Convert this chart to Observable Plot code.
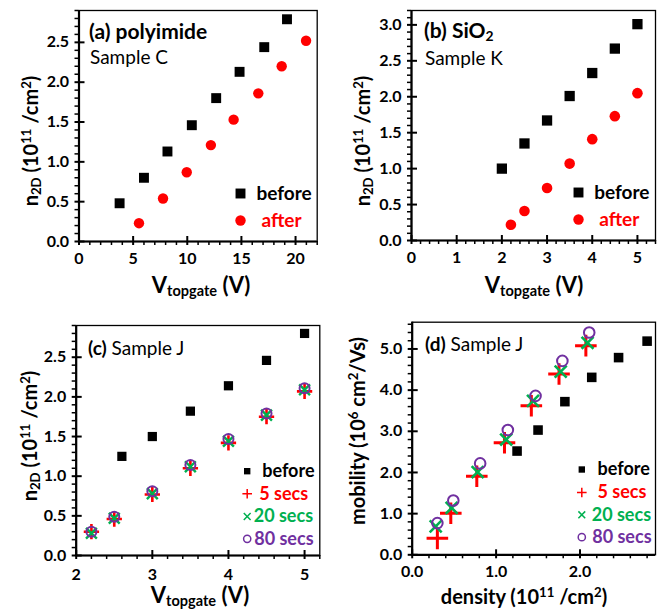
<!DOCTYPE html>
<html><head><meta charset="utf-8">
<script src="https://cdn.jsdelivr.net/npm/d3@7"></script>
<script src="https://cdn.jsdelivr.net/npm/@observablehq/plot@0.6"></script>
<style>
body{margin:0;background:#fff;}
#root{position:relative;width:664px;height:610px;font-family:Lato,"Open Sans",sans-serif;color:#000;overflow:hidden;}
.panel{position:absolute;width:332px;height:305px;}
.lab{position:absolute;white-space:nowrap;line-height:1;}
.lab sub,.lab sup{font-size:0.66em;line-height:0;}
.lab sub{vertical-align:-0.24em;}
.lab sup{vertical-align:0.55em;}
</style></head><body><div id="root"></div>
<script>
// ---------- data ----------
// (a) polyimide, Sample C
const aBeforeV = [3.75, 6.0, 8.17, 10.42, 12.67, 14.83, 17.11, 19.21];
const aBeforeN = [0.48, 0.80, 1.13, 1.46, 1.80, 2.13, 2.44, 2.79];
const aAfterV  = [5.54, 7.76, 9.95, 12.18, 14.28, 16.56, 18.72, 20.97];
const aAfterN  = [0.23, 0.54, 0.87, 1.21, 1.53, 1.86, 2.20, 2.52];
// (b) SiO2, Sample K
const bBeforeV = [2.0, 2.5, 3.0, 3.5, 4.0, 4.5, 5.0];
const bBeforeN = [1.00, 1.35, 1.67, 2.01, 2.33, 2.67, 3.01];
const bAfterV  = [2.2, 2.5, 3.0, 3.5, 4.0, 4.5, 5.0];
const bAfterN  = [0.22, 0.41, 0.73, 1.07, 1.41, 1.73, 2.05];
// (c) Sample J : density vs gate voltage
const cBeforeV = [2.6, 3.0, 3.5, 4.0, 4.5, 5.0];
const cBeforeN = [1.25, 1.50, 1.82, 2.14, 2.46, 2.80];
const cAfterV  = [2.2, 2.5, 3.0, 3.5, 4.0, 4.5, 5.0];
const c5sN     = [0.30, 0.46, 0.77, 1.10, 1.42, 1.75, 2.07];
const c20sN    = [0.28, 0.47, 0.78, 1.12, 1.44, 1.77, 2.09];
const c80sN    = [0.30, 0.49, 0.81, 1.14, 1.47, 1.79, 2.11];
// (d) Sample J : mobility vs density
const dBeforeMu = [2.52, 3.03, 3.72, 4.31, 4.79, 5.19];
const d5sMu     = [0.40, 1.01, 1.91, 2.72, 3.62, 4.39, 5.08];
const d20sMu    = [0.69, 1.14, 2.01, 2.80, 3.74, 4.45, 5.15];
const d80sMu    = [0.77, 1.32, 2.22, 3.03, 3.86, 4.71, 5.40];
// tick labels
const aXTicks = [0, 5, 10, 15, 20];
const aYTicks = [0, 0.5, 1.0, 1.5, 2.0, 2.5];
const bXTicks = [0, 1, 2, 3, 4, 5];
const bYTicks = [0, 0.5, 1.0, 1.5, 2.0, 2.5, 3.0];
const cXTicks = [2, 3, 4, 5];
const cYTicks = [0, 0.5, 1.0, 1.5, 2.0, 2.5];
const dXTicks = [0, 1, 2];
const dYTicks = [0, 1, 2, 3, 4, 5];

const RED = "#ff0000", GREEN = "#00b050", PURPLE = "#7030a0";
const root = document.getElementById("root");

function minorTicks(lo, hi, step, majors) {
  const out = [];
  for (let i = 0; lo + i * step <= hi + 1e-9; i++) {
    const v = +(lo + i * step).toFixed(6);
    if (!majors.some(m => Math.abs(m - v) < 1e-6)) out.push(v);
  }
  return out;
}

function panel({left, top, W = 332, H = 305, ml, mr, mt, mb, x, y, xMinorStep, yMinorStep, xFmt, yFmt, xPad = 11, marks}) {
  const fw = W - ml - mr, fh = H - mt - mb;
  const xMin = minorTicks(x.domain[0], x.domain[1], xMinorStep, x.ticks);
  const yMin = minorTicks(y.domain[0], y.domain[1], yMinorStep, y.ticks);
  const svg = Plot.plot({
    width: W, height: H,
    marginLeft: ml, marginRight: mr, marginTop: mt, marginBottom: mb,
    style: {fontFamily: "Lato, 'Open Sans', sans-serif", fontSize: "16px", fontWeight: "bold", color: "#000", background: "transparent", overflow: "visible"},
    x: {domain: x.domain, ticks: x.ticks, tickFormat: xFmt, tickSize: 0, tickPadding: xPad, label: null},
    y: {domain: y.domain, ticks: y.ticks, tickFormat: yFmt, tickSize: 0, tickPadding: 10, label: null},
    marks: [
      Plot.frame({stroke: "#000", strokeWidth: 1.3}),
      Plot.tickX(xMin, {x: d => d, insetTop: fh, insetBottom: -4, stroke: "#000", strokeWidth: 1.5}),
      Plot.tickX(x.ticks, {x: d => d, insetTop: fh - 5, insetBottom: -4, stroke: "#000", strokeWidth: 2}),
      Plot.tickY(yMin, {y: d => d, insetRight: fw, insetLeft: -4, stroke: "#000", strokeWidth: 1.5}),
      Plot.tickY(y.ticks, {y: d => d, insetRight: fw - 6, insetLeft: -4, stroke: "#000", strokeWidth: 2}),
      Plot.ruleY([y.domain[0]], {stroke: "#000", strokeWidth: 2.2}),
      Plot.ruleX([x.domain[0]], {stroke: "#000", strokeWidth: 2.2}),
      ...marks
    ]
  });
  const div = document.createElement("div");
  div.className = "panel";
  div.style.left = left + "px";
  div.style.top = top + "px";
  div.appendChild(svg);
  root.appendChild(div);
}

function legendItem(text, color, dx, dy, tdx, fontSize, symOpts) {
  return [
    Plot.dot([text], {x: null, y: null, frameAnchor: "top-left", dx, dy, ...symOpts}),
    Plot.text([text], {x: null, y: null, text: d => d, frameAnchor: "top-left", dx: tdx, dy, textAnchor: "start", lineAnchor: "middle", fill: color, fontSize, fontWeight: "bold"})
  ];
}

const f1 = d3.format(".1f");
const f0 = d3.format("d");

// ---------- (a) ----------
panel({
  left: 0, top: 0, ml: 78.5, mr: 15.3, mt: 10, mb: 64,
  x: {domain: [0, 22], ticks: aXTicks}, y: {domain: [0, 2.9], ticks: aYTicks},
  xMinorStep: 1, yMinorStep: 0.1, xFmt: f0, yFmt: f1,
  marks: [
    Plot.dot(aBeforeN, {x: aBeforeV, y: aBeforeN, symbol: "square", r: 5.6, fill: "#000"}),
    Plot.dot(aAfterN, {x: aAfterV, y: aAfterN, symbol: "circle", r: 5.2, fill: RED}),
    ...legendItem("before", "#000", 161.5, 183, 177.5, 19, {symbol: "square", r: 5.6, fill: "#000"}),
    ...legendItem("after", RED, 161.5, 210, 182.5, 19, {symbol: "circle", r: 5.2, fill: RED})
  ]
});

// ---------- (b) ----------
panel({
  left: 332, top: 0, ml: 79, mr: 9, mt: 10, mb: 65,
  x: {domain: [0, 5.4], ticks: bXTicks}, y: {domain: [0, 3.2], ticks: bYTicks},
  xMinorStep: 0.2, yMinorStep: 0.1, xFmt: f0, yFmt: f1,
  marks: [
    Plot.dot(bBeforeN, {x: bBeforeV, y: bBeforeN, symbol: "square", r: 5.8, fill: "#000"}),
    Plot.dot(bAfterN, {x: bAfterV, y: bAfterN, symbol: "circle", r: 5.3, fill: RED}),
    ...legendItem("before", "#000", 167, 182, 182.7, 19, {symbol: "square", r: 5.6, fill: "#000"}),
    ...legendItem("after", RED, 167, 209, 187.7, 19, {symbol: "circle", r: 5.2, fill: RED})
  ]
});

// ---------- (c) ----------
panel({
  left: 0, top: 305, ml: 75.7, mr: 12.7, mt: 20, mb: 55, xPad: 13,
  x: {domain: [2, 5.2], ticks: cXTicks}, y: {domain: [0, 2.9], ticks: cYTicks},
  xMinorStep: 0.2, yMinorStep: 0.1, xFmt: f0, yFmt: f1,
  marks: [
    Plot.dot(cBeforeN, {x: cBeforeV, y: cBeforeN, symbol: "square", r: 5.2, fill: "#000"}),
    Plot.dot(c5sN, {x: cAfterV, y: c5sN, symbol: "plus", r: 5, stroke: RED, strokeWidth: 2.6}),
    Plot.dot(c20sN, {x: cAfterV, y: c20sN, symbol: "times", r: 5, stroke: GREEN, strokeWidth: 2.4}),
    Plot.dot(c80sN, {x: cAfterV, y: c80sN, symbol: "circle", r: 5, stroke: PURPLE, strokeWidth: 2, fill: "none"}),
    ...legendItem("before", "#000", 171, 145.7, 186, 18, {symbol: "square", r: 3.6, fill: "#000"}),
    ...legendItem("5 secs", RED, 171, 168.3, 183, 18, {symbol: "plus", r: 3.2, stroke: RED, strokeWidth: 1.5}),
    ...legendItem("20 secs", GREEN, 171, 191, 177.5, 18, {symbol: "times", r: 3.2, stroke: GREEN, strokeWidth: 1.5}),
    ...legendItem("80 secs", PURPLE, 171, 213.3, 178, 18, {symbol: "circle", r: 3.6, stroke: PURPLE, strokeWidth: 1.5, fill: "none"})
  ]
});

// ---------- (d) ----------
const dBeforeN = cBeforeN, dAfterN5 = c5sN, dAfterN20 = c20sN, dAfterN80 = c80sN;
panel({
  left: 332, top: 305, ml: 79.7, mr: 9, mt: 16.7, mb: 55.7,
  x: {domain: [0, 2.9], ticks: dXTicks}, y: {domain: [0, 5.65], ticks: dYTicks},
  xMinorStep: 0.2, yMinorStep: 0.2, xFmt: f1, yFmt: f1,
  marks: [
    Plot.dot(dBeforeMu, {x: dBeforeN, y: dBeforeMu, symbol: "square", r: 5.4, fill: "#000"}),
    Plot.dot(d5sMu, {x: dAfterN5, y: d5sMu, symbol: "plus", r: 7, stroke: RED, strokeWidth: 3}),
    Plot.dot(d20sMu, {x: dAfterN20, y: d20sMu, symbol: "times", r: 5.5, stroke: GREEN, strokeWidth: 2.6}),
    Plot.dot(d80sMu, {x: dAfterN80, y: d80sMu, symbol: "circle", r: 5.3, stroke: PURPLE, strokeWidth: 2, fill: "none"}),
    ...legendItem("before", "#000", 169.6, 147.3, 185.3, 18, {symbol: "square", r: 3.6, fill: "#000"}),
    ...legendItem("5 secs", RED, 169.6, 170.3, 185.3, 18, {symbol: "plus", r: 3.2, stroke: RED, strokeWidth: 1.5}),
    ...legendItem("20 secs", GREEN, 169.6, 192.6, 179.5, 18, {symbol: "times", r: 3.2, stroke: GREEN, strokeWidth: 1.5}),
    ...legendItem("80 secs", PURPLE, 169.6, 215, 180, 18, {symbol: "circle", r: 3.6, stroke: PURPLE, strokeWidth: 1.5, fill: "none"})
  ]
});

// ---------- text overlays ----------
function label(html, x, y, {size = 18, weight = "bold", color = "#000", anchor = "start", rotate = false} = {}) {
  const d = document.createElement("div");
  d.className = "lab";
  d.innerHTML = html;
  d.style.left = x + "px";
  d.style.top = y + "px";
  d.style.fontSize = size + "px";
  d.style.fontWeight = weight;
  d.style.color = color;
  const tx = anchor === "middle" ? "-50%" : "0";
  d.style.transform = `translate(${tx},-50%)` + (rotate ? " rotate(-90deg)" : "");
  root.appendChild(d);
}
// panel annotations
label("(a) polyimide", 89, 30, {size: 21});
label("Sample C", 90, 56, {size: 19, weight: "normal"});
label("(b) SiO<sub>2</sub>", 424, 29, {size: 21});
label("Sample K", 425, 57, {size: 19, weight: "normal"});
label("<b>(c)</b> Sample J", 88, 347, {size: 19, weight: "normal"});
label("<b>(d)</b> Sample J", 425, 343, {size: 19, weight: "normal"});
// axis titles
const yTitleN = "n<sub>2D</sub> (10<sup>11</sup> /cm<sup>2</sup>)";
const xTitleV = "V<sub>topgate</sub> (V)";
label(yTitleN, 30, 141, {size: 20, anchor: "middle", rotate: true});
label(yTitleN, 362, 141, {size: 20, anchor: "middle", rotate: true});
label(yTitleN, 29, 436, {size: 20, anchor: "middle", rotate: true});
label("mobility (10<sup>6</sup> cm<sup>2</sup>/Vs)", 357, 431, {size: 20, anchor: "middle", rotate: true});
label(xTitleV, 201, 285, {size: 22, anchor: "middle"});
label(xTitleV, 534, 285, {size: 22, anchor: "middle"});
label(xTitleV, 200, 595, {size: 22, anchor: "middle"});
label("density (10<sup>11</sup> /cm<sup>2</sup>)", 524, 596, {size: 20, anchor: "middle"});
</script></body></html>
